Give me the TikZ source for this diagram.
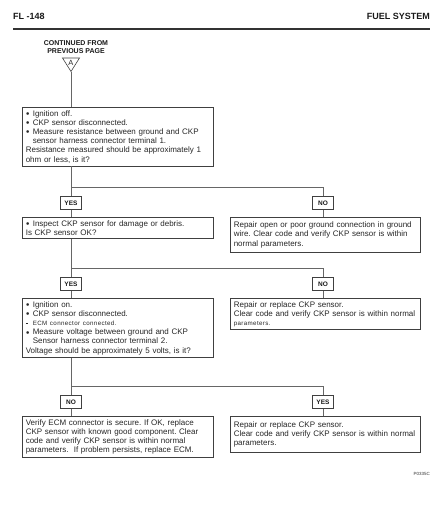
\documentclass[tikz,border=0pt]{standalone}
\usepackage{fontspec}
\setmainfont{Liberation Sans}
\newfontfamily\widefont[LetterSpace=6]{Liberation Sans}
\newcommand\myblt{\makebox[7pt][l]{\raisebox{0.7pt}{\fontsize{6}{6}\selectfont$\bullet$}}}
\newcommand\myind{\hspace*{7pt}}
\newcommand\mysmall[1]{{\widefont\fontsize{6.2}{9.2}\selectfont #1}}
\frenchspacing
\begin{document}
\begin{tikzpicture}[x=1pt,y=-1pt,
  box/.style={draw=black!75, line width=0.6pt, anchor=north west, align=left,
    inner xsep=3.5pt, inner ysep=3pt, font=\fontsize{8}{9.2}\selectfont, text=black!85},
  lbox/.style={box, text width=184pt},
  rbox/.style={box, text width=183pt},
  yn/.style={draw=black!75, line width=0.6pt, minimum width=21pt, minimum height=13pt,
    inner sep=0pt, font=\bfseries\fontsize{6.5}{7}\selectfont, text=black!90},
  conn/.style={draw=black!60, line width=0.6pt},
  head/.style={font=\bfseries\fontsize{9}{10}\selectfont, text=black!90, inner sep=0pt}]
\useasboundingbox (0,0) rectangle (444,531);

% header
\node[head, anchor=west] (hl) at (13,16) {FL -148};
\node[head, anchor=east] (hr) at (430,16) {FUEL SYSTEM};
\draw[line width=1.8pt, black!80] (13,29) -- (430,29);

% continued from
\node[align=center, font=\bfseries\fontsize{7}{8.6}\selectfont, text=black!90, inner sep=0pt]
  (cont) at (76,47) {CONTINUED FROM\\PREVIOUS PAGE};
\draw[black!75, line width=0.6pt] (62.5,58) -- (79.5,58) -- (71,71.5) -- cycle;
\node[font=\fontsize{7.5}{7.5}\selectfont, inner sep=0pt, text=black!85] (ltrA) at (71,63) {A};
\coordinate (tri) at (71,71.5);

% boxes
\node[lbox] (box1) at (22,107) {\myblt Ignition off.\\
\myblt CKP sensor disconnected.\\
\myblt Measure resistance between ground and CKP\\
\myind sensor harness connector terminal 1.\\
Resistance measured should be approximately 1\\
ohm or less, is it?};

\node[yn] (yes1) at (71,203) {YES};
\node[yn] (no1) at (323,203) {NO};

\node[lbox] (box2) at (22,217) {\myblt Inspect CKP sensor for damage or debris.\\
Is CKP sensor OK?};
\node[rbox, minimum height=35pt] (box3) at (230,217) {Repair open or poor ground connection in ground\\
wire. Clear code and verify CKP sensor is within\\
normal parameters.};

\node[yn] (yes2) at (71,284) {YES};
\node[yn] (no2) at (323,284) {NO};

\node[lbox] (box4) at (22,298) {\myblt Ignition on.\\
\myblt CKP sensor disconnected.\\
\makebox[7pt][l]{\raisebox{2pt}{\rule{2pt}{0.5pt}}}\mysmall{ECM connector connected.}\\
\myblt Measure voltage between ground and CKP\\
\myind Sensor harness connector terminal 2.\\
Voltage should be approximately 5 volts, is it?};
\node[rbox] (box5) at (230,298) {Repair or replace CKP sensor.\\
Clear code and verify CKP sensor is within normal\\
\mysmall{parameters.}};

\node[yn] (no3) at (71,402) {NO};
\node[yn] (yes3) at (323,402) {YES};

\node[lbox] (box6) at (22,416) {Verify ECM connector is secure. If OK, replace\\
CKP sensor with known good component. Clear\\
code and verify CKP sensor is within normal\\
parameters.\ \ If problem persists, replace ECM.};
\node[rbox, minimum height=36pt] (box7) at (230,416) {Repair or replace CKP sensor.\\
Clear code and verify CKP sensor is within normal\\
parameters.};

\node[anchor=east, font=\fontsize{4.5}{5}\selectfont, text=black!80, inner sep=0pt] (code) at (430,474) {P0335C};

% connectors
\draw[conn] (tri) -- (box1.north -| tri);

\coordinate (j1) at (71,187);
\draw[conn] (box1.south -| j1) -- (yes1.north);
\draw[conn] (j1) -| (no1.north);
\draw[conn] (yes1.south) -- (box2.north -| yes1.south);
\draw[conn] (no1.south) -- (box3.north -| no1.south);

\coordinate (j2) at (71,268);
\draw[conn] (box2.south -| j2) -- (yes2.north);
\draw[conn] (j2) -| (no2.north);
\draw[conn] (yes2.south) -- (box4.north -| yes2.south);
\draw[conn] (no2.south) -- (box5.north -| no2.south);

\coordinate (j3) at (71,386);
\draw[conn] (box4.south -| j3) -- (no3.north);
\draw[conn] (j3) -| (yes3.north);
\draw[conn] (no3.south) -- (box6.north -| no3.south);
\draw[conn] (yes3.south) -- (box7.north -| yes3.south);
\end{tikzpicture}
\end{document}
